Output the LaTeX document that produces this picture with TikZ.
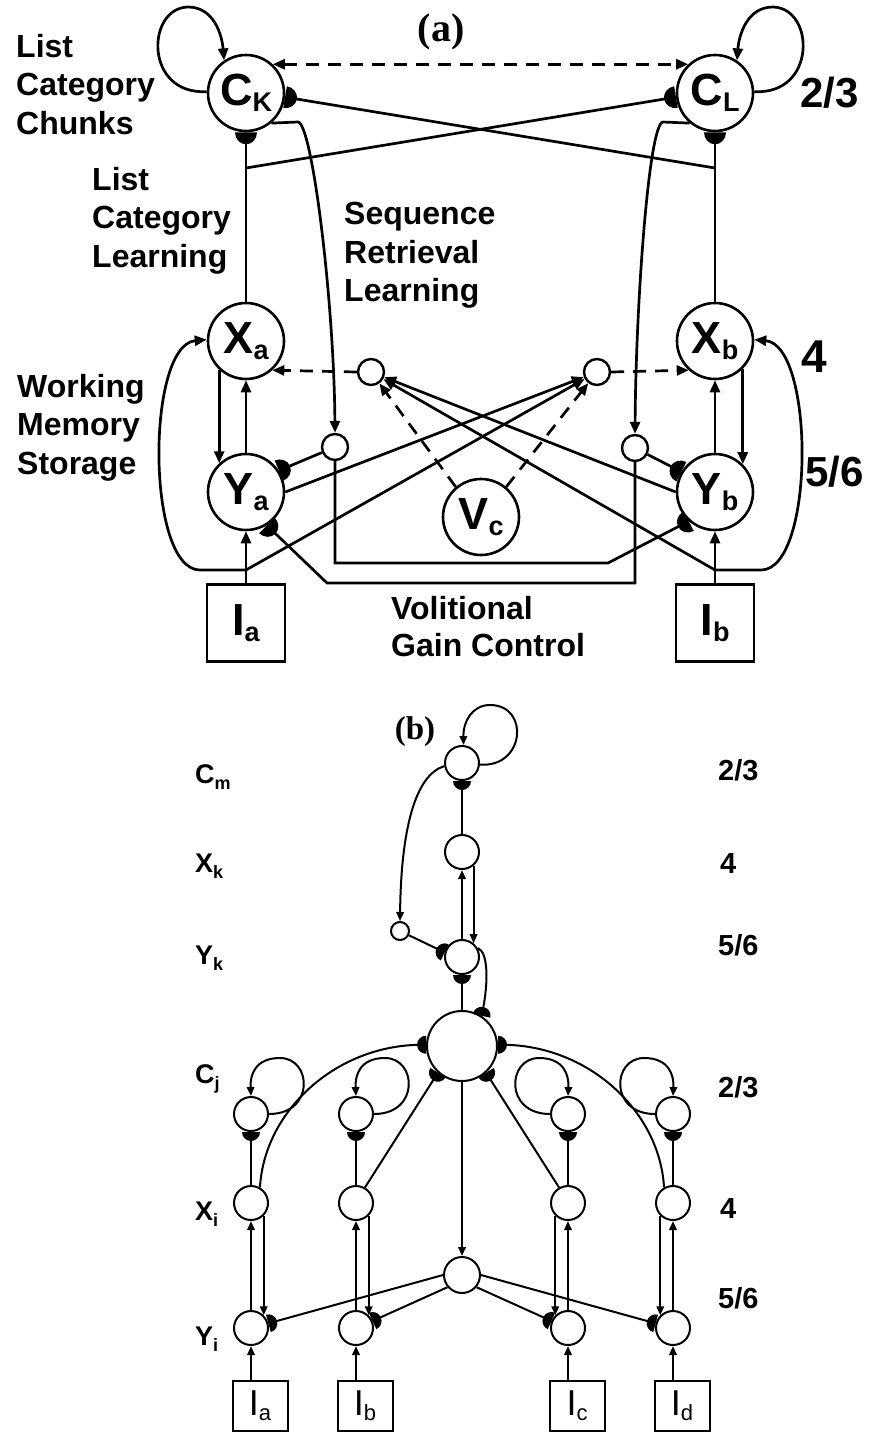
\documentclass[tikz,border=0pt]{standalone}
\usepackage{fontspec}
\setmainfont{Liberation Sans}
\newfontfamily\captionserif{Liberation Serif}
\usetikzlibrary{arrows.meta,calc}

% filled half-disc tip: flat side at the target, round side facing back
\pgfdeclarearrow{
  name = HalfDisc,
  parameters = {\the\pgfarrowlength,\the\pgfarrowwidth},
  setup code = {
    \pgfarrowssettipend{0pt}
    \pgfarrowssetbackend{-\pgfarrowlength}
    \pgfarrowssetlineend{-.5\pgfarrowlength}
    \pgfarrowssavethe\pgfarrowlength
    \pgfarrowssavethe\pgfarrowwidth
  },
  drawing code = {
    \pgfpathmoveto{\pgfqpoint{0pt}{.5\pgfarrowwidth}}
    \pgfpathcurveto{\pgfqpoint{-.5523\pgfarrowlength}{.5\pgfarrowwidth}}{\pgfqpoint{-\pgfarrowlength}{.2762\pgfarrowwidth}}{\pgfqpoint{-\pgfarrowlength}{0pt}}
    \pgfpathcurveto{\pgfqpoint{-\pgfarrowlength}{-.2762\pgfarrowwidth}}{\pgfqpoint{-.5523\pgfarrowlength}{-.5\pgfarrowwidth}}{\pgfqpoint{0pt}{-.5\pgfarrowwidth}}
    \pgfpathclose
    \pgfusepathqfill
  },
  defaults = {length = 10pt, width = 20pt}
}

\newcommand\lowA[1]{\raisebox{-6pt}{\fontsize{27}{27}\selectfont #1}}
\newcommand\lowB[1]{\raisebox{-5pt}{\fontsize{22}{22}\selectfont #1}}
\newcommand\lowC[1]{\raisebox{-6pt}{\fontsize{18}{18}\selectfont #1}}

\tikzset{
  x=1pt, y=-1pt,
  % panel (a)
  cellA/.style={circle, draw, line width=2.6pt, minimum size=76pt, inner sep=0pt,
    fill=white, font=\bfseries\fontsize{45}{45}\selectfont},
  inA/.style={rectangle, draw, line width=2.6pt, minimum width=78pt, minimum height=77pt,
    inner sep=0pt, fill=white, font=\bfseries\fontsize{45}{45}\selectfont},
  dotA/.style={circle, draw, line width=2.4pt, minimum size=26pt, inner sep=0pt, fill=white},
  wireA/.style={line width=2.7pt},
  arrA/.style={wireA, -{Triangle[length=12pt,width=10pt]}},
  inhA/.style={wireA, -{HalfDisc[length=12pt,width=22pt]}},
  dashA/.style={dash pattern=on 13pt off 9pt},
  lblA/.style={font=\bfseries\fontsize{32}{38.5}\selectfont, align=left, anchor=north west, inner sep=0pt},
  numA/.style={font=\bfseries\fontsize{42}{42}\selectfont, anchor=base west, inner sep=0pt},
  % panel (b)
  cellB/.style={circle, draw, line width=2pt, minimum size=34pt, inner sep=0pt, fill=white},
  dotB/.style={circle, draw, line width=2pt, minimum size=18pt, inner sep=0pt, fill=white},
  inB/.style={rectangle, draw, line width=2pt, minimum width=55pt, minimum height=50pt,
    inner sep=0pt, fill=white, font=\fontsize{36}{36}\selectfont},
  wireB/.style={line width=2pt},
  arrB/.style={wireB, -{Triangle[length=9pt,width=7.5pt]}},
  inhB/.style={wireB, -{HalfDisc[length=9pt,width=18pt]}},
  lblB/.style={font=\bfseries\fontsize{27}{27}\selectfont, anchor=base west, inner sep=0pt},
  numB/.style={font=\bfseries\fontsize{29}{29}\selectfont, anchor=base west, inner sep=0pt},
  panel/.style={font=\captionserif\bfseries, inner sep=0pt},
}

\begin{document}
\begin{tikzpicture}
\useasboundingbox (0,0) rectangle (875,1433);

%==================== panel (a) ====================
\node[panel, font=\captionserif\bfseries\fontsize{40}{40}\selectfont] (capa) at (441,32) {(a)};

\node[cellA] (ck) at (246,93)  {C\lowA{K}};
\node[cellA] (cl) at (715,93)  {C\lowA{L}};
\node[cellA] (xa) at (246,341) {X\lowA{a}};
\node[cellA] (xb) at (715,341) {X\lowA{b}};
\node[cellA] (ya) at (246,492) {Y\lowA{a}};
\node[cellA] (yb) at (715,492) {Y\lowA{b}};
\node[cellA] (vc) at (481,517) {V\lowA{c}};
\node[inA]   (ia) at (246,623) {I\lowA{a}};
\node[inA]   (ib) at (715,623) {I\lowA{b}};
\node[dotA]  (sl) at (371,372) {};
\node[dotA]  (sr) at (597,372) {};
\node[dotA]  (gl) at (335,447) {};
\node[dotA]  (gr) at (635,448) {};
\coordinate (jl) at (246,168);
\coordinate (jr) at (715,168);
\coordinate (ja) at (246,570);
\coordinate (jb) at (715,570);

% labels
\node[lblA] (t1) at (16,34)   {List\\Category\\Chunks};
\node[lblA] (t2) at (92,167)  {List\\Category\\Learning};
\node[lblA] (t3) at (344,202) {Sequence\\Retrieval\\Learning};
\node[lblA] (t4) at (17,374)  {Working\\Memory\\Storage};
\node[lblA, font=\bfseries\fontsize{32}{37}\selectfont] (t5) at (391,596) {Volitional\\Gain Control};
\node[numA] (n1) at (800,107) {2/3};
\node[numA, font=\bfseries\fontsize{46}{46}\selectfont] (n2) at (801,372) {4};
\node[numA] (n3) at (805,486) {5/6};

% self-excitation of the list chunks
\draw[arrA] (ck.178) .. controls (144,95) and (146,8) .. (188,7)
            .. controls (214,7) and (222,35) .. (ck.124);
\draw[arrA] (cl.2) .. controls (817,95) and (815,8) .. (773,7)
            .. controls (747,7) and (739,35) .. (cl.56);
% mutual chunk competition
\draw[wireA, dashA, {Triangle[length=12pt,width=10pt]}-{Triangle[length=12pt,width=10pt]}]
  (ck.47) -- (cl.133);

% list category learning
\draw[inhA] (xa) -- (ck);
\draw[inhA] (xb) -- (cl);
\draw[inhA] (jl) -- (cl.186);
\draw[inhA] (jr) -- (ck.354);

% sequence retrieval learning
\draw[arrA] (ck.-50) -- (298,122) .. controls (312,123) and (334,300) .. (gl.north);
\draw[arrA] (cl.-130) -- (663,122) .. controls (649,123) and (636,300) .. (gr.north);

% volitional gain control
\draw[inhA] (gl) -- (ya.33);
\draw[inhA] (gr) -- (yb.149);
\draw[inhA] (gl.south) |- (608,563) -- (yb.228);
\draw[inhA] (gr.south) |- (327,583) -- (ya.-58);

% working memory storage
\draw[arrA] (xa.-133) -- (ya.133);
\draw[arrA] (ya) -- (xa);
\draw[arrA] (yb) -- (xb);
\draw[arrA] (xb.-45) -- (yb.45);
\draw[arrA] (ia) -- (ya);
\draw[arrA] (ib) -- (yb);
\draw[arrA] (ja) -- (200,570) .. controls (146,570) and (146,345) .. (xa.178);
\draw[arrA] (jb) -- (761,570) .. controls (815,570) and (815,345) .. (xb.2);

% crossed inputs to the gating cells
\draw[arrA] (ya.east) -- (sr);
\draw[arrA] (ja) -- (sr);
\draw[arrA] (yb.west) -- (sl);
\draw[arrA] (jb) -- (sl);
\draw[wireA, dashA, -{Triangle[length=12pt,width=10pt]}] (sl.west) -- (xa.-48);
\draw[wireA, dashA, -{Triangle[length=12pt,width=10pt]}] (sr.east) -- (xb.-132);
\draw[wireA, dashA, -{Triangle[length=12pt,width=10pt]}] (vc.130) -- (sl);
\draw[wireA, dashA, -{Triangle[length=12pt,width=10pt]}] (vc.50) -- (sr);

%==================== panel (b) ====================
\node[panel, font=\captionserif\bfseries\fontsize{33}{33}\selectfont] (capb) at (415,732) {(b)};

\node[cellB] (cm) at (462,763) {};
\node[cellB] (xk) at (462,852) {};
\node[cellB] (yk) at (462,957) {};
\node[dotB]  (sk) at (400,931) {};
\node[circle, draw, line width=2pt, minimum size=70pt, inner sep=0pt, fill=white] (hub) at (462,1046) {};
\node[cellB, minimum size=36pt] (mid) at (462,1275) {};

\foreach \i/\cx in {1/251,2/356,3/568,4/673}{
  \node[cellB] (c\i) at (\cx,1114) {};
  \node[cellB] (x\i) at (\cx,1203) {};
  \node[cellB] (y\i) at (\cx,1328) {};
}
\node[inB] (i1) at (260,1406) {I\lowB{a}};
\node[inB] (i2) at (365,1406) {I\lowB{b}};
\node[inB] (i3) at (577,1406) {I\lowB{c}};
\node[inB] (i4) at (682,1406) {I\lowB{d}};

% layer labels
\node[lblB] (u1) at (195,783)  {C\lowC{m}};
\node[lblB] (u2) at (195,872)  {X\lowC{k}};
\node[lblB] (u3) at (195,964)  {Y\lowC{k}};
\node[lblB] (u4) at (195,1083) {C\lowC{j}};
\node[lblB] (u5) at (195,1220) {X\lowC{i}};
\node[lblB] (u6) at (195,1345) {Y\lowC{i}};
\node[numB] (v1) at (718,780)  {2/3};
\node[numB] (v2) at (720,873)  {4};
\node[numB] (v3) at (718,955)  {5/6};
\node[numB] (v4) at (718,1097) {2/3};
\node[numB] (v5) at (720,1218) {4};
\node[numB] (v6) at (718,1308) {5/6};

% upper column
\draw[arrB] (cm.-5) .. controls (525,768) and (530,705) .. (490,705)
            .. controls (472,705) and (463,722) .. (cm.85);
\draw[inhB] (xk) -- (cm);
\draw[arrB] (cm.190) .. controls (415,775) and (401,830) .. (sk.north);
\draw[inhB] (sk) -- (yk.165);
\draw[arrB] (yk) -- (xk);
\draw[arrB] (xk.-50) -- (yk.50);
\draw[inhB] (hub) -- (yk);
\draw[inhB] (yk.30) .. controls (489,952) and (488,985) .. (hub.57);

% item chunks feeding the hub
\draw[inhB] (x1.60) .. controls (264,1112) and (335,1045) .. (hub.178);
\draw[inhB] (x4.120) .. controls (660,1112) and (589,1045) .. (hub.2);
\draw[inhB] (x2.60) -- (hub.228);
\draw[inhB] (x3.120) -- (hub.-48);
\draw[arrB] (hub) -- (mid);
\draw[inhB] (mid.west) -- (y1.15);
\draw[inhB] (mid.220) -- (y2.23);
\draw[inhB] (mid.-40) -- (y3.157);
\draw[inhB] (mid.east) -- (y4.165);

% lower columns
\foreach \i in {1,2,3,4}{
  \draw[inhB] (x\i) -- (c\i);
  \draw[arrB] (y\i) -- (x\i);
  \draw[arrB] (y\i |- i\i.north) -- (y\i);
}
\draw[arrB] (x1.-45) -- (y1.45);
\draw[arrB] (x2.-45) -- (y2.45);
\draw[arrB] (x3.-135) -- (y3.135);
\draw[arrB] (x4.-135) -- (y4.135);

% self-excitation of the item chunks
\draw[arrB] (c1.east) .. controls (315,1114) and (312,1058) .. (280,1058)
            .. controls (255,1058) and (250,1075) .. (c1.north);
\draw[arrB] (c2.east) .. controls (420,1114) and (417,1058) .. (385,1058)
            .. controls (360,1058) and (355,1075) .. (c2.north);
\draw[arrB] (c3.west) .. controls (504,1114) and (507,1058) .. (539,1058)
            .. controls (564,1058) and (569,1075) .. (c3.north);
\draw[arrB] (c4.west) .. controls (609,1114) and (612,1058) .. (644,1058)
            .. controls (669,1058) and (674,1075) .. (c4.north);
\end{tikzpicture}
\end{document}
